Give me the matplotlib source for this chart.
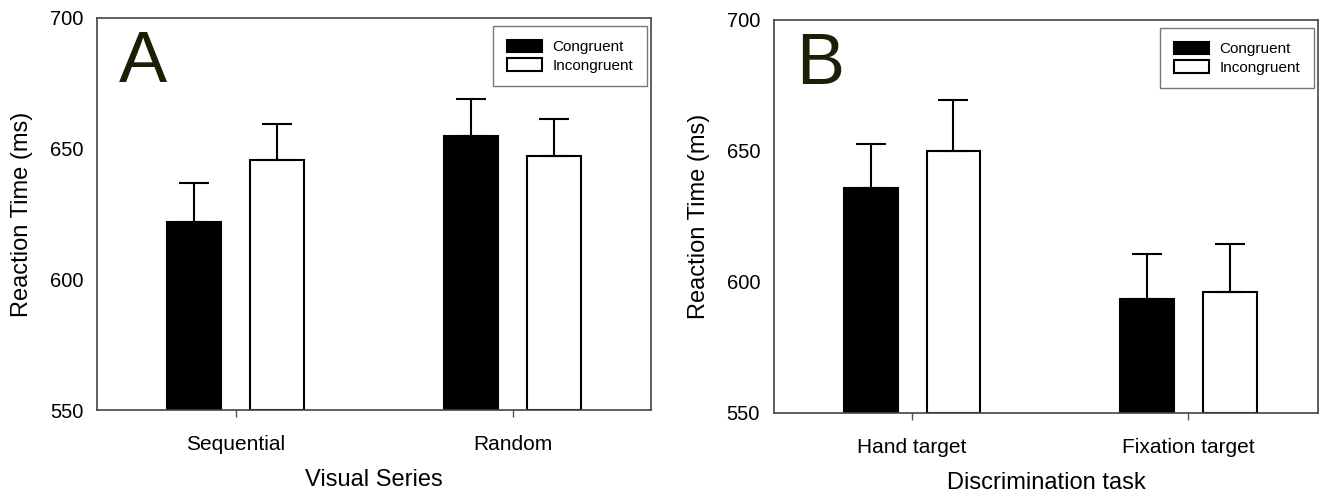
import numpy as np
import matplotlib.pyplot as plt

plt.rcParams['font.family'] = ['Liberation Sans', 'DejaVu Sans']

# Panel A
cat_a = ['Sequential', 'Random']
cong_a = [622, 655]
cong_a_err = [15, 14]
incong_a = [645.5, 647]
incong_a_err = [14, 14.5]

# Panel B
cat_b = ['Hand target', 'Fixation target']
cong_b = [636, 593.5]
cong_b_err = [16.5, 17]
incong_b = [649.8, 596.3]
incong_b_err = [19.5, 18]

series_labels = ['Congruent', 'Incongruent']

fig = plt.figure(figsize=(13.26, 4.95), dpi=100)
axA = fig.add_axes([0.0732, 0.1717, 0.4178, 0.792])
axB = fig.add_axes([0.5837, 0.1657, 0.4103, 0.794])


def panel(ax, cats, c, ce, ic, ice, xlabel, letter, xlim_r):
    x = np.arange(len(cats))
    w = 0.195
    ek = dict(ecolor='black', elinewidth=1.5, capsize=11, capthick=1.5)
    ax.bar(x - 0.15, np.array(c) - 550, w, bottom=550, color='black',
           edgecolor='black', linewidth=1.5, label=series_labels[0])
    ax.bar(x + 0.15, np.array(ic) - 550, w, bottom=550, color='white',
           edgecolor='black', linewidth=1.5, label=series_labels[1])
    ax.errorbar(x - 0.15, c, yerr=[np.zeros(len(c)), ce], fmt='none', **ek)
    ax.errorbar(x + 0.15, ic, yerr=[np.zeros(len(ic)), ice], fmt='none', **ek)
    ax.set_ylim(550, 700)
    ax.set_xlim(-0.5, xlim_r)
    ax.set_yticks([550, 600, 650, 700])
    ax.set_xticks(x)
    ax.set_xticklabels(cats, fontsize=15)
    ax.tick_params(axis='y', length=0, labelsize=14.5, pad=10)
    ax.tick_params(axis='x', length=5, width=1, direction='out', pad=13,
                   color='#555555')
    for s in ax.spines.values():
        s.set_color('#444444')
        s.set_linewidth(1.2)
    ax.set_ylabel('Reaction Time (ms)', fontsize=17, labelpad=12)
    ax.set_xlabel(xlabel, fontsize=17, labelpad=11)
    ax.text(0.04, 0.97, letter, transform=ax.transAxes, fontsize=52,
            color='#1e1e05', va='top', ha='left')
    leg = ax.legend(loc='upper right', bbox_to_anchor=(0.993, 0.98),
                    borderaxespad=0, fancybox=False, framealpha=1,
                    prop={'size': 11},
                    handlelength=2.3, handleheight=0.9, labelspacing=0.25,
                    borderpad=0.9, handletextpad=0.7)
    leg.get_frame().set_edgecolor('#777777')
    leg.get_frame().set_linewidth(1.0)


panel(axA, cat_a, cong_a, cong_a_err, incong_a, incong_a_err,
      'Visual Series', 'A', 1.5)
panel(axB, cat_b, cong_b, cong_b_err, incong_b, incong_b_err,
      'Discrimination task', 'B', 1.47)

fig.savefig('out.png', dpi=100)
